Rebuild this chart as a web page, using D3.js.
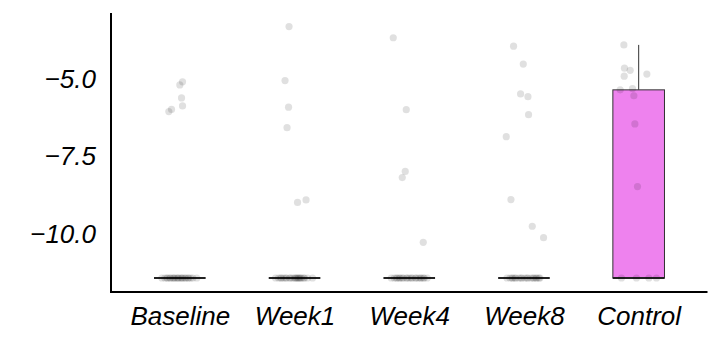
<!DOCTYPE html>
<html>
<head>
<meta charset="utf-8">
<script src="https://cdn.jsdelivr.net/npm/d3@7"></script>
<style>
  html, body { margin: 0; padding: 0; background: #fff; }
  svg { display: block; }
  text { font-family: "Liberation Sans", Arial, sans-serif; font-style: italic; }
</style>
</head>
<body>
<svg id="chart" width="717" height="337"></svg>
<script>
// ---- data ----
const categories = ["Baseline", "Week1", "Week4", "Week8", "Control"];
const yTicks = [-5.0, -7.5, -10.0];
const yTickLabels = ["\u22125.0", "\u22127.5", "\u221210.0"];

// box statistics per category
const boxLow    = [-11.42, -11.42, -11.42, -11.42, -11.42];
const boxMedian = [-11.42, -11.42, -11.42, -11.42, -11.42];
const boxHigh   = [-11.42, -11.42, -11.42, -11.42, -5.35];
const whiskerHigh = [-11.42, -11.42, -11.42, -11.42, -3.90];
const boxFill   = ["none", "none", "none", "none", "#ee82ee"];

// jittered points: values and horizontal jitter (in px) per category
const baselineValues = [-5.09, -5.19, -5.61, -5.87, -5.98, -6.05,
  -11.42, -11.42, -11.42, -11.42, -11.42, -11.42, -11.42, -11.42, -11.42, -11.42, -11.42, -11.42, -11.42, -11.42,
  -11.42, -11.42, -11.42, -11.42, -11.42, -11.42, -11.42, -11.42];
const baselineJitter = [2.7, 0, 1.7, 2.7, -8.3, -11,
  -18, -15, -12, -9, -7, -5, -3, -1, 1, 3, 6, 9, 13, 17,
  -13, -10, -6, -2, 2, 5, 8, 11];

const week1Values = [-3.31, -5.05, -5.91, -6.57, -8.98, -8.90,
  -11.42, -11.42, -11.42, -11.42, -11.42, -11.42, -11.42, -11.42, -11.42, -11.42, -11.42, -11.42, -11.42, -11.42,
  -11.42, -11.42, -11.42, -11.42, -11.42, -11.42, -11.42, -11.42];
const week1Jitter = [-5.5, -9.5, -6, -7.5, 3, 11.5,
  -19, -16, -13, -11, -8, -5, -2, 0, 2, 4, 6, 9, 13, 18,
  -14, -9, -4, 1, 3, 5, 7, 10];

const week4Values = [-3.67, -5.99, -7.98, -8.18, -10.27,
  -11.42, -11.42, -11.42, -11.42, -11.42, -11.42, -11.42, -11.42, -11.42, -11.42, -11.42, -11.42, -11.42,
  -11.42, -11.42, -11.42, -11.42, -11.42, -11.42, -11.42, -11.42];
const week4Jitter = [-16, -3, -4, -7, 14,
  -18, -15, -12, -9, -6, -3, 0, 3, 6, 9, 12, 15, 18,
  -13, -10, -7, -2, 2, 7, 11, 14];

const week8Values = [-3.94, -4.52, -5.48, -5.57, -6.15, -6.86, -8.89, -9.75, -10.12,
  -11.42, -11.42, -11.42, -11.42, -11.42, -11.42, -11.42, -11.42, -11.42, -11.42, -11.42, -11.42,
  -11.42, -11.42, -11.42, -11.42, -11.42, -11.42, -11.42];
const week8Jitter = [-10.4, -0.7, -3.4, 4, 4.6, -17.7, -13, 8.3, 19.6,
  -17, -14, -11, -8, -5, -2, 1, 4, 7, 10, 13, 16,
  -12, -9, -3, 3, 9, 12, 15];

const controlValues = [-3.90, -4.65, -4.72, -4.91, -4.84, -5.35, -5.31, -5.54, -6.45, -8.47,
  -11.42, -11.42, -11.42, -11.42];
const controlJitter = [-14.8, -14.2, -8.5, -14.5, 8.2, -18.5, -6.2, -4.8, -3.8, -1.2,
  -17.2, -2.2, 10.2, 17.8];

const pointValues = [baselineValues, week1Values, week4Values, week8Values, controlValues];
const pointJitter = [baselineJitter, week1Jitter, week4Jitter, week8Jitter, controlJitter];

// ---- layout ----
const svg = d3.select("#chart");
const mLeft = 111, mRight = 707.5, mTop = 13, mBottom = 292;

const x = d3.scalePoint().domain(categories).range([mLeft, mRight]).padding(0.6);
const y = d3.scaleLinear().domain([-11.871, -2.871]).range([mBottom, mTop]);
const boxW = x.step() * 0.45;

// boxes
const boxes = categories.map((c, i) => ({
  c, low: boxLow[i], med: boxMedian[i], high: boxHigh[i], wh: whiskerHigh[i], fill: boxFill[i]
}));

const gBox = svg.append("g");
boxes.forEach(b => {
  const cx = x(b.c);
  if (b.wh > b.high) {
    gBox.append("line")
      .attr("x1", cx).attr("x2", cx)
      .attr("y1", y(b.high)).attr("y2", y(b.wh))
      .attr("stroke", "#333").attr("stroke-width", 1);
  }
  if (b.high > b.low) {
    gBox.append("rect")
      .attr("x", cx - boxW / 2).attr("width", boxW)
      .attr("y", y(b.high)).attr("height", y(b.low) - y(b.high))
      .attr("fill", b.fill).attr("stroke", "#333").attr("stroke-width", 1);
  }
  gBox.append("line")
    .attr("x1", cx - boxW / 2).attr("x2", cx + boxW / 2)
    .attr("y1", y(b.med)).attr("y2", y(b.med))
    .attr("stroke", "#222").attr("stroke-width", 2);
});

// jittered points
const pts = [];
categories.forEach((c, i) => {
  pointValues[i].forEach((v, j) => pts.push({ c, v, dx: pointJitter[i][j] }));
});
svg.append("g").selectAll("circle").data(pts).join("circle")
  .attr("cx", d => x(d.c) + d.dx)
  .attr("cy", d => y(d.v))
  .attr("r", 3.6)
  .attr("fill", "#000")
  .attr("fill-opacity", 0.12);

// axes
const yAxis = d3.axisLeft(y).tickValues(yTicks)
  .tickFormat((d, i) => yTickLabels[i]).tickSize(0).tickPadding(15);
const gy = svg.append("g").attr("transform", `translate(${mLeft},0)`).call(yAxis);
gy.select(".domain").remove();
gy.selectAll("text").attr("font-size", 26).attr("fill", "#000")
  .attr("font-family", "'Liberation Sans', Arial, sans-serif").attr("font-style", "italic");

const xAxis = d3.axisBottom(x).tickSize(0).tickPadding(15);
const gx = svg.append("g").attr("transform", `translate(0,${mBottom})`).call(xAxis);
gx.select(".domain").remove();
gx.selectAll("text").attr("font-size", 26).attr("fill", "#000")
  .attr("font-family", "'Liberation Sans', Arial, sans-serif").attr("font-style", "italic");

// axis lines
svg.append("line").attr("x1", mLeft).attr("x2", mLeft).attr("y1", mTop).attr("y2", mBottom + 1)
  .attr("stroke", "#000").attr("stroke-width", 2);
svg.append("line").attr("x1", mLeft - 1).attr("x2", mRight).attr("y1", mBottom).attr("y2", mBottom)
  .attr("stroke", "#000").attr("stroke-width", 2);
</script>
</body>
</html>
